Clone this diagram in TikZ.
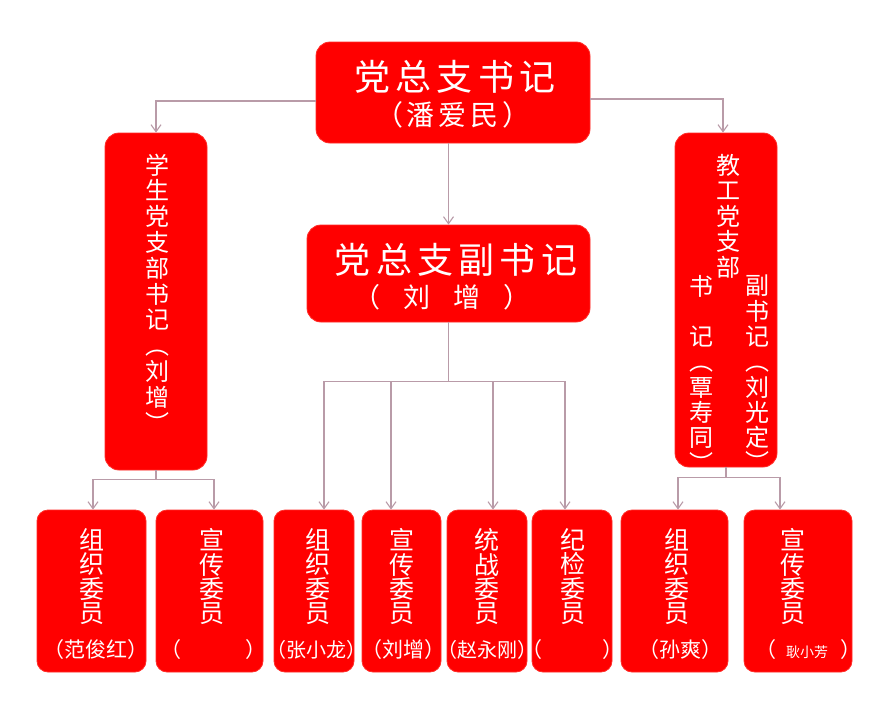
\documentclass[tikz,border=0pt]{standalone}
\usepackage{fontspec}
\newfontfamily\cjk{Noto Sans CJK SC}
\usetikzlibrary{arrows.meta,calc}
\definecolor{connc}{RGB}{185,155,168}
\definecolor{boxred}{RGB}{255,0,0}
\definecolor{boxedge}{RGB}{255,45,40}
\newcommand\cel[2]{\makebox[#1][c]{#2}}
\begin{document}
\begin{tikzpicture}[x=1pt,y=-1pt,
  redbox/.style={rectangle,rounded corners=14pt,fill=boxred,draw=boxedge,line width=0.8pt,inner sep=0pt},
  txt/.style={text=white,inner sep=0pt,font=\cjk,align=center},
  conn/.style={draw=connc,line width=1.1pt},
  arr/.style={conn,-{Straight Barb[length=7pt,width=10pt]}}]
\useasboundingbox[fill=white] (0,0) rectangle (886,704);

% boxes
\node[redbox,minimum width=274pt,minimum height=101pt] (top) at (453,92.5) {};
\node[redbox,minimum width=283pt,minimum height=97pt] (sub) at (448.5,273.5) {};
\node[redbox,minimum width=102pt,minimum height=337pt] (lcol) at (156,301.5) {};
\node[redbox,minimum width=102pt,minimum height=334pt] (rcol) at (726,300) {};
\tikzset{bbox/.style={redbox,rounded corners=11pt,minimum height=162pt}}
\node[bbox,minimum width=109pt] (b1) at (91.5,591) {};
\node[bbox,minimum width=107pt] (b2) at (209.5,591) {};
\node[bbox,minimum width=80pt] (b3) at (314,591) {};
\node[bbox,minimum width=79pt] (b4) at (401.5,591) {};
\node[bbox,minimum width=80pt] (b5) at (487,591) {};
\node[bbox,minimum width=80pt] (b6) at (572,591) {};
\node[bbox,minimum width=107pt] (b7) at (674.5,591) {};
\node[bbox,minimum width=108pt] (b8) at (798,591) {};

% texts top
\node[txt,font=\cjk\fontsize{36}{36}\selectfont] (t1) at (455,77)
  {\cel{41.3pt}{党}\cel{41.3pt}{总}\cel{41.3pt}{支}\cel{41.3pt}{书}\cel{41.3pt}{记}};
\node[txt,font=\cjk\fontsize{28}{28}\selectfont] (t2) at (453,115)
  {\cel{32pt}{（}\cel{32pt}{潘}\cel{32pt}{爱}\cel{32pt}{民}\cel{32pt}{）}};
\node[txt,font=\cjk\fontsize{36}{36}\selectfont] (s1) at (456,260)
  {\cel{41.3pt}{党}\cel{41.3pt}{总}\cel{41.3pt}{支}\cel{41.3pt}{副}\cel{41.3pt}{书}\cel{41.3pt}{记}};
\node[txt,font=\cjk\fontsize{27}{27}\selectfont] (s2) at (442,297)
  {\cel{50pt}{（}\cel{50pt}{刘}\cel{50pt}{增}\cel{50pt}{）}};

% left column text
\node[txt,font=\cjk\fontsize{24}{25.8}\selectfont] (lt) at (157,293)
  {学\\生\\党\\支\\部\\书\\记\\︵\\刘\\增\\︶};

% right column text
\node[txt,font=\cjk\fontsize{24}{25.5}\selectfont] (rt) at (728,216)
  {教\\工\\党\\支\\部};
\node[txt,font=\cjk\fontsize{24}{25.3}\selectfont] (rl) at (701,373.5)
  {书\\\mbox{}\\记\\︵\\覃\\寿\\同\\︶};
\node[txt,font=\cjk\fontsize{24}{25.3}\selectfont] (rr) at (757,373.5)
  {副\\书\\记\\︵\\刘\\光\\定\\︶};

% bottom texts
\tikzset{vt/.style={txt,font=\cjk\fontsize{25}{24.4}\selectfont},
         nm/.style={txt,font=\cjk\fontsize{21}{21}\selectfont}}
\node[vt] (v1) at (92,576.7) {组\\织\\委\\员};
\node[vt] (v2) at (212,576.7) {宣\\传\\委\\员};
\node[vt] (v3) at (318,576.7) {组\\织\\委\\员};
\node[vt] (v4) at (402,576.7) {宣\\传\\委\\员};
\node[vt] (v5) at (487,576.7) {统\\战\\委\\员};
\node[vt] (v6) at (573,576.7) {纪\\检\\委\\员};
\node[vt] (v7) at (677,576.7) {组\\织\\委\\员};
\node[vt] (v8) at (793,576.7) {宣\\传\\委\\员};

\node[nm] (n1) at (96,650) {（范俊红）};
\node[nm] (n2) at (213,650) {（\hspace*{64pt}）};
\node[nm,font=\cjk\fontsize{20}{20}\selectfont] (n3) at (316,650) {（张小龙）};
\node[nm] (n4) at (403,650) {（刘增）};
\node[nm,font=\cjk\fontsize{20}{20}\selectfont] (n5) at (487,650) {（赵永刚）};
\node[nm] (n6) at (572,650) {（\hspace*{60pt}）};
\node[nm] (n7) at (680,650) {（孙爽）};
\node[nm] (n8) at (808,650) {（\hspace*{10pt}{\fontsize{14}{14}\selectfont 耿小芳}\hspace*{12pt}）};

% connectors
\draw[arr] ($(top.west)+(0,8.5)$) -| (lcol.north);
\draw[arr] ($(top.east)+(0,6.5)$) -| ($(rcol.north)+(-3,0)$);
\draw[arr] (sub.north |- top.south) -- (sub.north);

\draw[conn] (sub.south) -- ++(0,59) coordinate (sj);
\coordinate (a3) at ($(b3.north)+(10,0)$);
\coordinate (a4) at ($(b4.north)+(-10.5,0)$);
\coordinate (a5) at ($(b5.north)+(6,0)$);
\coordinate (a6) at ($(b6.north)+(-7,0)$);
\draw[conn] (a3 |- sj) -- (a6 |- sj);
\draw[arr] (a3 |- sj) -- (a3);
\draw[arr] (a4 |- sj) -- (a4);
\draw[arr] (a5 |- sj) -- (a5);
\draw[arr] (a6 |- sj) -- (a6);

\draw[conn] (lcol.south) -- ++(0,9) coordinate (lj);
\coordinate (a1) at ($(b1.north)+(1.5,0)$);
\coordinate (a2) at ($(b2.north)+(4.5,0)$);
\draw[conn] (a1 |- lj) -- (a2 |- lj);
\draw[arr] (a1 |- lj) -- (a1);
\draw[arr] (a2 |- lj) -- (a2);

\draw[conn] (rcol.south) -- ++(0,10) coordinate (rj);
\coordinate (a7) at ($(b7.north)+(3.5,0)$);
\coordinate (a8) at ($(b8.north)+(-18,0)$);
\draw[conn] (a7 |- rj) -- (a8 |- rj);
\draw[arr] (a7 |- rj) -- (a7);
\draw[arr] (a8 |- rj) -- (a8);
\end{tikzpicture}
\end{document}
